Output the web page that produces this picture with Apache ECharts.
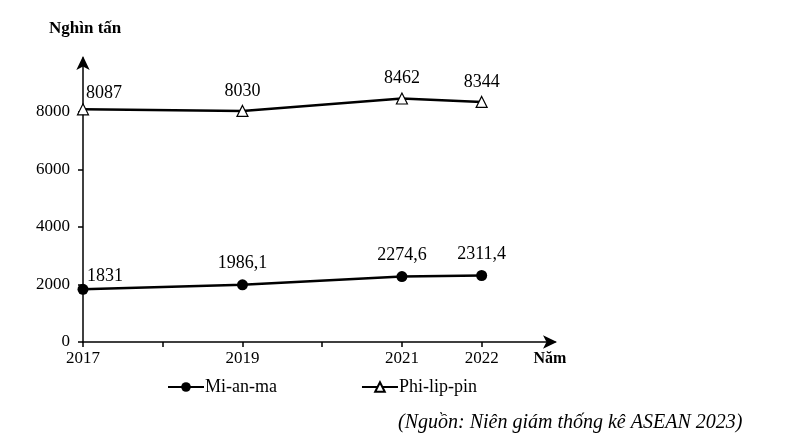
<!DOCTYPE html>
<html><head><meta charset="utf-8">
<script src="https://cdn.jsdelivr.net/npm/echarts@6/dist/echarts.min.js"></script>
<style>html,body{margin:0;padding:0;background:#fff}#c{width:803px;height:446px}</style>
</head><body><div id="c"></div>
<script>
var years = [2017, 2019, 2021, 2022];
var myanmar = [1831, 1986.1, 2274.6, 2311.4];
var philippines = [8087, 8030, 8462, 8344];
var xTickValues = [2017, 2018, 2019, 2020, 2021, 2022];
var xLabelValues = [2017, 2019, 2021, 2022];
var yTickValues = [0, 2000, 4000, 6000, 8000];
var seriesNames = ['Mi-an-ma', 'Phi-lip-pin'];

var F = '"Liberation Serif","Times New Roman",serif';
function pairs(v){ return years.map(function(y,i){ return [y, v[i]]; }); }
function fmt(p){ return String(p.value[1]).replace('.', ','); }

var chart = echarts.init(document.getElementById('c'));
chart.setOption({
  animation: false,
  backgroundColor: '#fff',
  title: [
    {text: 'Nghìn tấn', left: 44, top: 15, textStyle: {fontFamily: F, fontSize: 17, fontWeight: 'bold', color: '#000'}},
    {text: '(Nguồn: Niên giám thống kê ASEAN 2023)', left: 393, top: 408, textStyle: {fontFamily: F, fontSize: 20, fontStyle: 'italic', fontWeight: 'normal', color: '#000'}}
  ],
  grid: {left: 83, right: 248, top: 58, bottom: 104},
  legend: {
    data: seriesNames, left: 162, top: 373, itemWidth: 36, itemHeight: 12, itemGap: 84,
    textStyle: {fontFamily: F, fontSize: 18, color: '#000', padding: [0,0,0,-4]}
  },
  xAxis: {
    type: 'value', min: 2017, max: 2022.92,
    name: 'Năm', nameLocation: 'end', nameGap: -5,
    nameTextStyle: {fontFamily: F, fontSize: 16, fontWeight: 'bold', color: '#000', align: 'center', verticalAlign: 'top', padding: [9,0,0,0]},
    axisLine: {lineStyle: {color: '#000', width: 1.5}, symbol: ['none', 'arrow'], symbolSize: [10, 14], symbolOffset: [0, 2]},
    axisTick: {show: true, inside: false, length: 5, lineStyle: {color: '#000', width: 1.5}, customValues: xTickValues},
    axisLabel: {customValues: xLabelValues, fontFamily: F, fontSize: 17, color: '#000', margin: 8, formatter: function(v){ return String(v); }},
    splitLine: {show: false}
  },
  yAxis: {
    type: 'value', min: 0, max: 9870,
    axisLine: {show: true, lineStyle: {color: '#000', width: 1.5}, symbol: ['none', 'arrow'], symbolSize: [10, 14], symbolOffset: [0, 2]},
    axisTick: {show: true, length: 5, lineStyle: {color: '#000', width: 1.5}, customValues: yTickValues},
    axisLabel: {customValues: yTickValues, fontFamily: F, fontSize: 17, color: '#000', margin: 13, formatter: function(v){ return String(v); }},
    splitLine: {show: false}
  },
  series: [
    {
      name: seriesNames[0], type: 'line', data: pairs(myanmar),
      symbol: 'circle', symbolSize: 11,
      lineStyle: {color: '#000', width: 2.5}, itemStyle: {color: '#000'},
      label: {show: true, position: 'top', distance: 7, formatter: fmt, fontFamily: F, fontSize: 18, color: '#000'},
      labelLayout: function(p){ return p.dataIndex === 0 ? {dx: 22, dy: 8} : {}; }
    },
    {
      name: seriesNames[1], type: 'line', data: pairs(philippines),
      symbol: 'triangle', symbolSize: 11,
      lineStyle: {color: '#000', width: 2.5}, itemStyle: {color: '#fff', borderColor: '#000', borderWidth: 1.2},
      label: {show: true, position: 'top', distance: 5, formatter: fmt, fontFamily: F, fontSize: 18, color: '#000'},
      labelLayout: function(p){ return p.dataIndex === 0 ? {dx: 21, dy: 4} : {}; }
    }
  ]
});
</script></body></html>
